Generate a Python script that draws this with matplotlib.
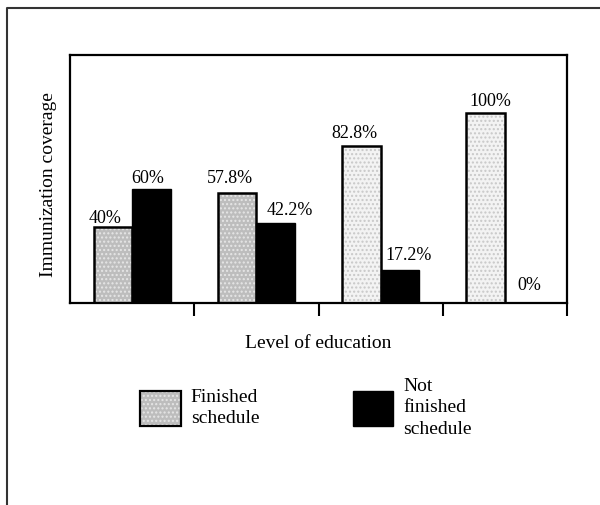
import numpy as np
import matplotlib.pyplot as plt
from matplotlib.patches import Patch
from matplotlib.lines import Line2D

plt.rcParams['font.family'] = ['Liberation Serif', 'DejaVu Serif']

# Coverage (%) per level of education
finished = [40, 57.8, 82.8, 100]
not_finished = [60, 42.2, 17.2, 0]
finished_labels = ['40%', '57.8%', '82.8%', '100%']
not_finished_labels = ['60%', '42.2%', '17.2%', '0%']

# label nudges in pixels (dx, dy)
finished_nudge = [(-8, 4), (-7, 10), (-7, 8), (5, 7)]
not_finished_nudge = [(-4, 6), (14, 8), (9, 10), (5, 13)]

x = np.arange(len(finished))
w = 0.31

fig = plt.figure(figsize=(6, 5.05), dpi=100)
ax = fig.add_axes([70/600, 1 - 303/505, 497/600, 248/505])

# stippled fill for the finished bars, darker for the first two groups
faces = ['#bdbdbd', '#bdbdbd', '#f3f3f3', '#f3f3f3']
dots = ['#e6e6e6', '#e6e6e6', '#c8c8c8', '#c8c8c8']
for i in range(len(finished)):
    ax.bar(x[i] - w/2, finished[i], w, color=faces[i], hatch='....',
           edgecolor=dots[i], linewidth=0)
ax.bar(x - w/2, finished, w, fill=False, edgecolor='black', linewidth=1.8)
ax.bar(x + w/2, not_finished, w, color='black', edgecolor='black', linewidth=1.0)

for i in range(len(x)):
    ax.annotate(finished_labels[i], (x[i] - w/2, finished[i]),
                xytext=finished_nudge[i], textcoords='offset pixels',
                ha='center', va='baseline', fontsize=13)
    ax.annotate(not_finished_labels[i], (x[i] + w/2, not_finished[i]),
                xytext=not_finished_nudge[i], textcoords='offset pixels',
                ha='center', va='baseline', fontsize=13)

ax.set_xlim(-0.5, len(x) - 0.5)
ax.set_ylim(0, 130.5)
ax.set_xticks(x[:-1] + 0.5)
ax.set_xticks([len(x) - 0.5], minor=True)
ax.tick_params(axis='x', which='both', direction='out', length=9, width=1.5,
               labelbottom=False)
ax.set_yticks([])
for s in ax.spines.values():
    s.set_linewidth(1.6)

ax.set_xlabel('Level of education', fontsize=14, labelpad=14)
fig.text(49/600, 1 - 185/505, 'Immunization coverage', rotation=90,
         ha='center', va='center', fontsize=14)

# legend
h1 = (Patch(facecolor='#bdbdbd', hatch='....', edgecolor='#e6e6e6', linewidth=0),
      Patch(fill=False, edgecolor='black', linewidth=1.6))
h2 = Patch(facecolor='black', edgecolor='black')
leg = fig.legend([h1, h2], ['Finished\nschedule', 'Not\nfinished\nschedule'],
                 loc='center', bbox_to_anchor=(306/600, 1 - 408/505), ncol=2,
                 frameon=False, fontsize=14, handlelength=2.1, handleheight=2.4,
                 handletextpad=0.5, columnspacing=4.8)
for t in leg.get_texts():
    t.set_linespacing(1.35)

# outer frame (left and top edges)
fx, fy = 7/600, 1 - 8/505
fig.add_artist(Line2D([fx, fx, 1], [0, fy, fy], color='#333333', linewidth=1.5))

fig.savefig('out.png', dpi=100)
